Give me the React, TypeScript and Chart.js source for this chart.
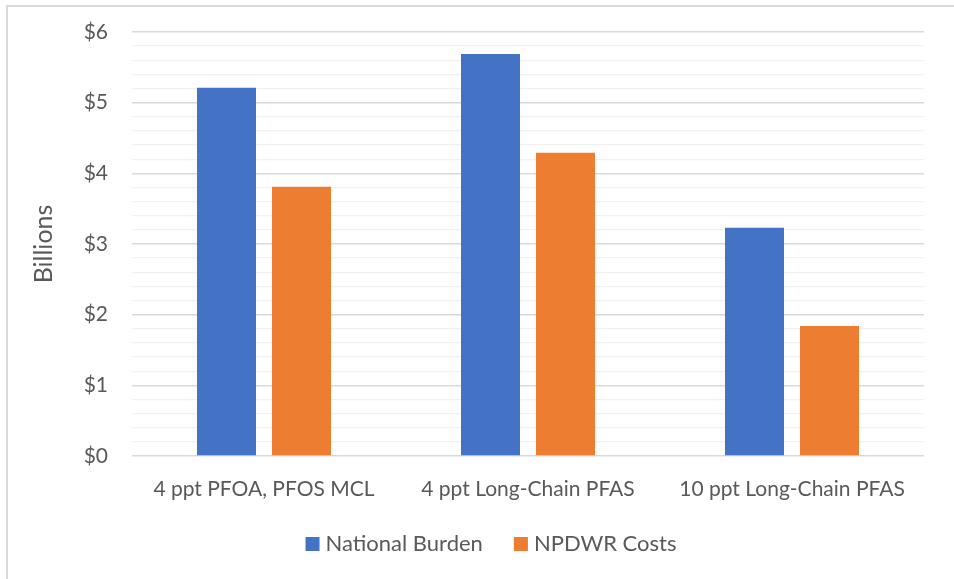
import React, { useEffect, useRef } from "react";
import { Chart, registerables } from "chart.js";

Chart.register(...registerables);

// Cost estimates by regulatory option, in billions of dollars
const categories = ["4 ppt PFOA, PFOS MCL", "4 ppt Long-Chain PFAS", "10 ppt Long-Chain PFAS"];
const nationalBurden = [5.21, 5.69, 3.23];
const npdwrCosts = [3.81, 4.29, 1.84];
const seriesNames = ["National Burden", "NPDWR Costs"];
const seriesColors = ["#4472C4", "#ED7D31"];
const axisTitle = "Billions";

const FONT = "Lato, 'Open Sans', sans-serif";
const TEXT = "#595959";

const isWhole = (v: number) => Math.abs(v - Math.round(v)) < 1e-6;

// Legend row under the axis: square swatch, short gap, series name
const legendRow = {
  id: "legendRow",
  afterDraw(chart: any) {
    const { ctx } = chart;
    const items = chart.data.datasets.map((d: any) => ({ text: d.label, color: d.backgroundColor }));
    const box = 14;
    const gap = 6;
    const itemGap = 31;
    ctx.save();
    ctx.font = `22px ${FONT}`;
    const widths = items.map((it: any) => box + gap + ctx.measureText(it.text).width);
    const total = widths.reduce((a: number, b: number) => a + b, 0) + itemGap * (items.length - 1);
    let x = 491 - total / 2;
    const baseline = 551;
    items.forEach((it: any, i: number) => {
      ctx.fillStyle = it.color;
      ctx.fillRect(x, baseline - box, box, box);
      ctx.fillStyle = TEXT;
      ctx.textAlign = "left";
      ctx.textBaseline = "alphabetic";
      ctx.fillText(it.text, x + box + gap, baseline);
      x += widths[i] + itemGap;
    });
    ctx.restore();
  },
};

export default function App() {
  const ref = useRef<HTMLCanvasElement | null>(null);

  useEffect(() => {
    if (!ref.current) return;
    const chart = new Chart(ref.current, {
      type: "bar",
      data: {
        labels: categories,
        datasets: [
          {
            label: seriesNames[0],
            data: nationalBurden,
            backgroundColor: seriesColors[0],
            categoryPercentage: 0.568,
            barPercentage: 0.787,
          },
          {
            label: seriesNames[1],
            data: npdwrCosts,
            backgroundColor: seriesColors[1],
            categoryPercentage: 0.568,
            barPercentage: 0.787,
          },
        ],
      },
      plugins: [legendRow],
      options: {
        responsive: false,
        animation: false,
        layout: { padding: { top: 32, right: 30, bottom: 58, left: 0 } },
        plugins: {
          tooltip: { enabled: false },
          legend: { display: false },
        },
        scales: {
          x: {
            grid: { display: false },
            border: { display: false },
            ticks: {
              color: TEXT,
              padding: 13,
              maxRotation: 0,
              font: { family: FONT, size: 21 },
            },
            afterFit: (s: any) => {
              s.height = 65;
            },
          },
          y: {
            min: 0,
            max: 6,
            border: { display: false },
            grid: {
              drawTicks: false,
              lineWidth: (c: any) => (isWhole(c.tick.value) ? 1.5 : 1.3),
              color: (c: any) => (isWhole(c.tick.value) ? "#d9d9d9" : "#f2f2f2"),
            },
            ticks: {
              stepSize: 0.2,
              padding: 24,
              color: TEXT,
              autoSkip: false,
              font: { family: FONT, size: 21 },
              callback: (v: any) => (isWhole(Number(v)) ? "$" + Math.round(Number(v)) : ""),
            },
            title: {
              display: true,
              text: axisTitle,
              color: TEXT,
              padding: { top: 29, bottom: 0 },
              font: { family: FONT, size: 25 },
            },
            afterFit: (s: any) => {
              s.width = 132;
              s.paddingTop = 0;
              s.paddingBottom = 0;
            },
          },
        },
      },
    });
    return () => chart.destroy();
  }, []);

  return (
    <div style={{ position: "fixed", left: 0, top: 0, width: 954, height: 579, background: "#fff" }}>
      <div
        style={{
          position: "absolute",
          left: 6,
          top: 5,
          width: 960,
          height: 590,
          borderLeft: "2px solid #d9d9d9",
          borderTop: "2px solid #d9d9d9",
        }}
      />
      <canvas ref={ref} width={954} height={579} style={{ position: "absolute", left: 0, top: 0 }} />
    </div>
  );
}
